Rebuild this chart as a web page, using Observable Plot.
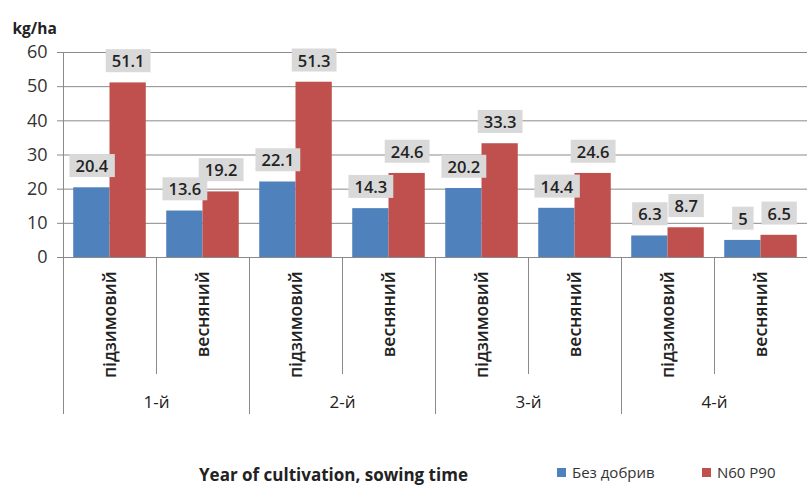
<!DOCTYPE html>
<html>
<head>
<meta charset="utf-8">
<script src="https://cdn.jsdelivr.net/npm/d3@7"></script>
<script src="https://cdn.jsdelivr.net/npm/@observablehq/plot@0.6"></script>
<style>
  html, body { margin: 0; padding: 0; background: #fff; }
  body { width: 807px; height: 487px; position: relative; overflow: hidden; font-family: "Open Sans", sans-serif; color: #222; }
  #chart { position: absolute; left: 0; top: 0; }
  #xtitle { position: absolute; left: 199px; top: 463px; font-size: 17px; font-weight: 700; color: #222; white-space: nowrap; }
  .leg { position: absolute; top: 462px; font-size: 15px; color: #333; white-space: nowrap; display: flex; align-items: center; }
  .sw { width: 9px; height: 9px; margin-right: 6px; display: inline-block; }
</style>
</head>
<body>
<div id="chart"></div>
<div id="xtitle">Year of cultivation, sowing time</div>
<div id="legend"></div>
<script>
// ---- data ----
const years = ["1-й", "2-й", "3-й", "4-й"];
const sowingTimes = ["підзимовий", "весняний"];
const series = ["Без добрив", "N60 P90"];
const noFertilizer = [20.4, 13.6, 22.1, 14.3, 20.2, 14.4, 6.3, 5];
const n60p90 = [51.1, 19.2, 51.3, 24.6, 33.3, 24.6, 8.7, 6.5];
const yTicks = [0, 10, 20, 30, 40, 50, 60];
const colors = ["#4f81bd", "#c0504d"];

// ---- build table ----
const nCat = noFertilizer.length;
const rows = [];
for (let i = 0; i < nCat; i++) {
  rows.push({i, year: years[Math.floor(i / 2)], time: sowingTimes[i % 2], s: 0, series: series[0], value: noFertilizer[i]});
  rows.push({i, year: years[Math.floor(i / 2)], time: sowingTimes[i % 2], s: 1, series: series[1], value: n60p90[i]});
}
const pad = 0.11;               // outer gap within a category band
const left = d => d.i + (d.s === 0 ? pad : 0.5);
const right = d => d.i + (d.s === 0 ? 0.5 : 1 - pad);
const center = d => (left(d) + right(d)) / 2;

const catCenters = d3.range(nCat).map(i => i + 0.5);
const shortSeps = d3.range(1, nCat, 2);
const longSeps = d3.range(0, nCat + 1, 2);
const yearCenters = d3.range(1, nCat, 2);

const gridColor = "#8a8a8a";

const plot = Plot.plot({
  width: 807,
  height: 440,
  marginLeft: 63,
  marginRight: 0,
  marginTop: 52,
  marginBottom: 183,
  style: {fontFamily: "'Open Sans', sans-serif", fontSize: "16px", color: "#222", background: "#fff", overflow: "visible"},
  x: {type: "linear", domain: [0, nCat]},
  y: {domain: [0, 60]},
  marks: [
    Plot.gridY(yTicks, {stroke: gridColor, strokeOpacity: 1}),
    Plot.axisY({ticks: yTicks, tickSize: 6, tickPadding: 10, stroke: gridColor, fill: "#333", fontSize: 18, label: null}),
    Plot.rectY(rows, {x1: left, x2: right, y: "value", fill: d => colors[d.s]}),
    Plot.ruleX([0], {y1: 0, y2: 60, stroke: gridColor}),
    Plot.ruleY([0], {stroke: gridColor}),
    // separators between categories (short) and between years (long)
    Plot.axisX({ticks: shortSeps, tickSize: 117, stroke: gridColor, tickFormat: () => "", label: null}),
    Plot.axisX({ticks: longSeps, tickSize: 157, stroke: gridColor, tickFormat: () => "", label: null}),
    // sowing-time labels (rotated)
    Plot.axisX({ticks: catCenters, tickSize: 0, tickPadding: 14, tickRotate: -90,
      tickFormat: d => sowingTimes[Math.floor(d) % 2], fill: "#222", fontSize: 17.5, fontWeight: 600, label: null}),
    // year labels
    Plot.axisX({ticks: yearCenters, tickSize: 0, tickPadding: 138,
      tickFormat: d => years[(d - 1) / 2], fill: "#222", fontSize: 17, label: null}),
    // value labels
    Plot.text(rows, {x: center, y: "value", text: d => String(d.value), dy: -21,
      fontSize: 16.5, fontWeight: 600, fill: "#222", className: "vlabel"}),
    // unit label
    Plot.text(["kg/ha"], {frameAnchor: "top-left", dx: -51, dy: -30, textAnchor: "start",
      fontSize: 15.5, fontWeight: 700, fill: "#222"})
  ]
});
document.getElementById("chart").appendChild(plot);

// grey boxes behind value labels
d3.select(plot).selectAll(".vlabel text").each(function() {
  const b = this.getBBox();
  const h = 23, cy = b.y + b.height / 2;
  const r = document.createElementNS("http://www.w3.org/2000/svg", "rect");
  r.setAttribute("x", b.x - 6);
  r.setAttribute("y", cy - h / 2);
  r.setAttribute("width", b.width + 12);
  r.setAttribute("height", h);
  r.setAttribute("fill", "#d9d9d9");
  r.setAttribute("stroke", "none");
  const t = this.getAttribute("transform");
  if (t) r.setAttribute("transform", t);
  this.parentNode.insertBefore(r, this);
});

// legend
const legend = document.getElementById("legend");
const legX = [557, 702];
series.forEach((s, k) => {
  const el = document.createElement("div");
  el.className = "leg";
  el.style.left = legX[k] + "px";
  el.innerHTML = `<span class="sw" style="background:${colors[k]}"></span>${s}`;
  legend.appendChild(el);
});
</script>
</body>
</html>
